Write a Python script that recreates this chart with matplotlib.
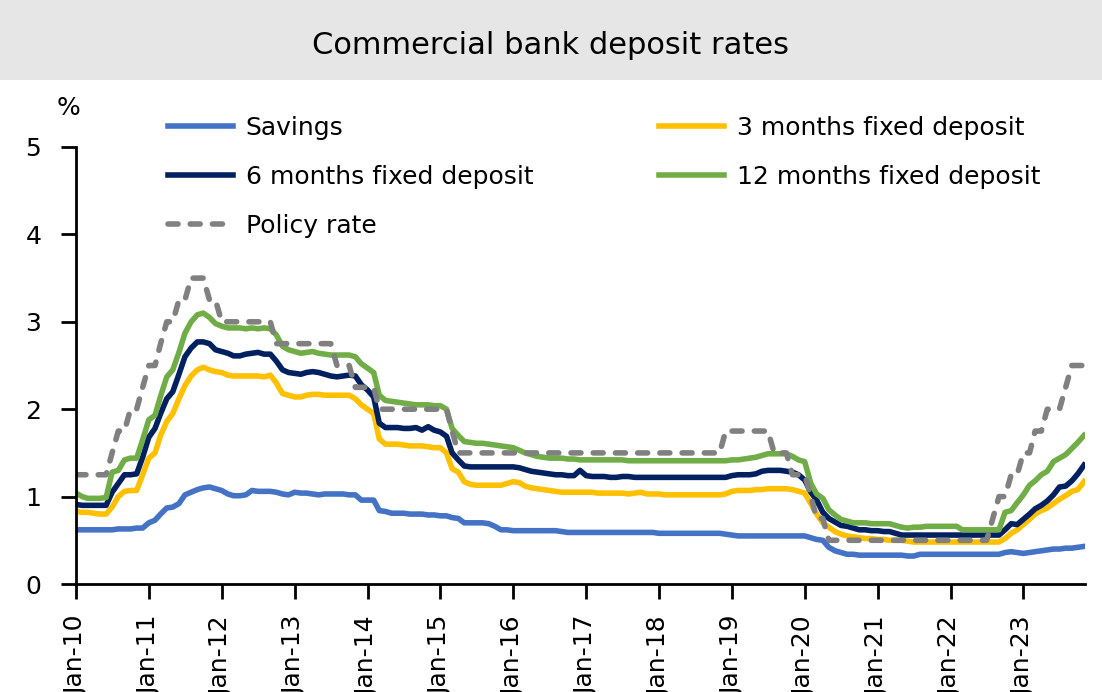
import matplotlib
matplotlib.use('Agg')
import matplotlib.pyplot as plt
import matplotlib.dates as mdates
import pandas as pd

# monthly data, Jan-10 .. Nov-23
months = pd.date_range('2010-01-01', '2023-11-01', freq='MS')

savings = [
    0.62, 0.62, 0.62, 0.62, 0.62, 0.62, 0.62, 0.63, 0.63, 0.63, 0.64, 0.64,  # 2010
    0.70, 0.73, 0.80, 0.87, 0.88, 0.92, 1.02, 1.05, 1.08, 1.10, 1.11, 1.09,  # 2011
    1.07, 1.03, 1.01, 1.01, 1.02, 1.07, 1.06, 1.06, 1.06, 1.05, 1.03, 1.02,  # 2012
    1.05, 1.04, 1.04, 1.03, 1.02, 1.03, 1.03, 1.03, 1.03, 1.02, 1.02, 0.96,  # 2013
    0.96, 0.96, 0.84, 0.83, 0.81, 0.81, 0.81, 0.80, 0.80, 0.80, 0.79, 0.79,  # 2014
    0.78, 0.78, 0.76, 0.75, 0.70, 0.70, 0.70, 0.70, 0.69, 0.66, 0.62, 0.62,  # 2015
    0.61, 0.61, 0.61, 0.61, 0.61, 0.61, 0.61, 0.61, 0.60, 0.59, 0.59, 0.59,  # 2016
    0.59, 0.59, 0.59, 0.59, 0.59, 0.59, 0.59, 0.59, 0.59, 0.59, 0.59, 0.59,  # 2017
    0.58, 0.58, 0.58, 0.58, 0.58, 0.58, 0.58, 0.58, 0.58, 0.58, 0.58, 0.57,  # 2018
    0.56, 0.55, 0.55, 0.55, 0.55, 0.55, 0.55, 0.55, 0.55, 0.55, 0.55, 0.55,  # 2019
    0.55, 0.53, 0.51, 0.50, 0.42, 0.38, 0.36, 0.34, 0.34, 0.33, 0.33, 0.33,  # 2020
    0.33, 0.33, 0.33, 0.33, 0.33, 0.32, 0.32, 0.34, 0.34, 0.34, 0.34, 0.34,  # 2021
    0.34, 0.34, 0.34, 0.34, 0.34, 0.34, 0.34, 0.34, 0.34, 0.36, 0.37, 0.36,  # 2022
    0.35, 0.36, 0.37, 0.38, 0.39, 0.40, 0.40, 0.41, 0.41, 0.42, 0.43,        # 2023
]

fixed_3m = [
    0.83, 0.82, 0.82, 0.81, 0.80, 0.80, 0.88, 1.00, 1.06, 1.07, 1.07, 1.25,
    1.44, 1.50, 1.70, 1.86, 1.95, 2.12, 2.27, 2.38, 2.45, 2.48, 2.45, 2.43,
    2.42, 2.39, 2.38, 2.38, 2.38, 2.38, 2.38, 2.37, 2.39, 2.30, 2.18, 2.16,
    2.14, 2.14, 2.16, 2.17, 2.17, 2.16, 2.16, 2.16, 2.16, 2.16, 2.12, 2.05,
    2.00, 1.95, 1.66, 1.60, 1.60, 1.60, 1.59, 1.58, 1.58, 1.58, 1.57, 1.56,
    1.56, 1.50, 1.32, 1.28, 1.17, 1.14, 1.13, 1.13, 1.13, 1.13, 1.13, 1.15,
    1.17, 1.16, 1.12, 1.10, 1.09, 1.08, 1.07, 1.06, 1.05, 1.05, 1.05, 1.05,
    1.05, 1.05, 1.04, 1.04, 1.04, 1.04, 1.04, 1.03, 1.04, 1.05, 1.03, 1.03,
    1.03, 1.02, 1.02, 1.02, 1.02, 1.02, 1.02, 1.02, 1.02, 1.02, 1.02, 1.03,
    1.06, 1.07, 1.07, 1.07, 1.08, 1.08, 1.09, 1.09, 1.09, 1.09, 1.08, 1.06,
    1.04, 0.92, 0.80, 0.70, 0.65, 0.60, 0.57, 0.55, 0.54, 0.53, 0.52, 0.52,
    0.51, 0.51, 0.50, 0.50, 0.50, 0.49, 0.48, 0.48, 0.48, 0.48, 0.48, 0.48,
    0.48, 0.48, 0.48, 0.48, 0.48, 0.48, 0.48, 0.48, 0.48, 0.52, 0.58, 0.62,
    0.68, 0.74, 0.80, 0.84, 0.87, 0.92, 0.97, 1.01, 1.06, 1.08, 1.17,
]

fixed_6m = [
    0.91, 0.90, 0.90, 0.90, 0.90, 0.90, 1.05, 1.15, 1.25, 1.25, 1.26, 1.45,
    1.68, 1.78, 1.95, 2.12, 2.20, 2.40, 2.60, 2.70, 2.77, 2.77, 2.75, 2.68,
    2.66, 2.64, 2.61, 2.61, 2.63, 2.64, 2.65, 2.63, 2.63, 2.55, 2.45, 2.42,
    2.41, 2.40, 2.42, 2.43, 2.42, 2.40, 2.38, 2.37, 2.38, 2.39, 2.38, 2.28,
    2.22, 2.14, 1.84, 1.79, 1.79, 1.79, 1.78, 1.78, 1.79, 1.76, 1.80, 1.76,
    1.74, 1.69, 1.50, 1.42, 1.35, 1.34, 1.34, 1.34, 1.34, 1.34, 1.34, 1.34,
    1.34, 1.33, 1.31, 1.29, 1.28, 1.27, 1.26, 1.25, 1.25, 1.24, 1.24, 1.30,
    1.24, 1.23, 1.23, 1.23, 1.22, 1.22, 1.23, 1.23, 1.22, 1.22, 1.22, 1.22,
    1.22, 1.22, 1.22, 1.22, 1.22, 1.22, 1.22, 1.22, 1.22, 1.22, 1.22, 1.22,
    1.24, 1.25, 1.25, 1.25, 1.26, 1.29, 1.30, 1.30, 1.30, 1.29, 1.28, 1.25,
    1.19, 1.05, 0.96, 0.82, 0.75, 0.71, 0.67, 0.66, 0.64, 0.62, 0.62, 0.61,
    0.61, 0.60, 0.60, 0.58, 0.56, 0.56, 0.56, 0.56, 0.56, 0.56, 0.56, 0.56,
    0.56, 0.56, 0.56, 0.56, 0.56, 0.56, 0.56, 0.56, 0.56, 0.62, 0.69, 0.68,
    0.74, 0.80, 0.86, 0.90, 0.95, 1.02, 1.11, 1.12, 1.18, 1.26, 1.36,
]

fixed_12m = [
    1.04, 1.00, 0.98, 0.98, 0.98, 0.99, 1.28, 1.30, 1.42, 1.44, 1.44, 1.65,
    1.88, 1.93, 2.15, 2.37, 2.45, 2.65, 2.87, 3.00, 3.08, 3.10, 3.05, 2.98,
    2.95, 2.93, 2.93, 2.93, 2.92, 2.93, 2.92, 2.93, 2.92, 2.85, 2.72, 2.68,
    2.66, 2.64, 2.65, 2.66, 2.64, 2.63, 2.62, 2.62, 2.62, 2.62, 2.60, 2.52,
    2.47, 2.42, 2.16, 2.10, 2.09, 2.08, 2.07, 2.06, 2.05, 2.05, 2.05, 2.04,
    2.04, 2.00, 1.78, 1.70, 1.63, 1.62, 1.61, 1.61, 1.60, 1.59, 1.58, 1.57,
    1.56, 1.53, 1.50, 1.48, 1.46, 1.45, 1.44, 1.44, 1.44, 1.43, 1.43, 1.42,
    1.42, 1.42, 1.42, 1.42, 1.42, 1.42, 1.42, 1.41, 1.41, 1.41, 1.41, 1.41,
    1.41, 1.41, 1.41, 1.41, 1.41, 1.41, 1.41, 1.41, 1.41, 1.41, 1.41, 1.41,
    1.42, 1.42, 1.43, 1.44, 1.45, 1.47, 1.49, 1.49, 1.49, 1.49, 1.46, 1.42,
    1.40, 1.15, 1.03, 0.98, 0.85, 0.79, 0.74, 0.72, 0.70, 0.70, 0.70, 0.69,
    0.69, 0.69, 0.69, 0.67, 0.65, 0.64, 0.65, 0.65, 0.66, 0.66, 0.66, 0.66,
    0.66, 0.66, 0.62, 0.62, 0.62, 0.62, 0.62, 0.62, 0.62, 0.82, 0.84, 0.93,
    1.02, 1.13, 1.18, 1.25, 1.29, 1.40, 1.44, 1.48, 1.55, 1.62, 1.70,
]

policy = [
    1.25, 1.25, 1.25, 1.25, 1.25, 1.25, 1.50, 1.75, 1.75, 2.00, 2.00, 2.25,
    2.50, 2.50, 2.75, 3.00, 3.00, 3.25, 3.25, 3.50, 3.50, 3.50, 3.25, 3.25,
    3.00, 3.00, 3.00, 3.00, 3.00, 3.00, 3.00, 3.00, 3.00, 2.75, 2.75, 2.75,
    2.75, 2.75, 2.75, 2.75, 2.75, 2.75, 2.75, 2.50, 2.50, 2.50, 2.25, 2.25,
    2.25, 2.25, 2.00, 2.00, 2.00, 2.00, 2.00, 2.00, 2.00, 2.00, 2.00, 2.00,
    2.00, 2.00, 1.75, 1.50, 1.50, 1.50, 1.50, 1.50, 1.50, 1.50, 1.50, 1.50,
    1.50, 1.50, 1.50, 1.50, 1.50, 1.50, 1.50, 1.50, 1.50, 1.50, 1.50, 1.50,
    1.50, 1.50, 1.50, 1.50, 1.50, 1.50, 1.50, 1.50, 1.50, 1.50, 1.50, 1.50,
    1.50, 1.50, 1.50, 1.50, 1.50, 1.50, 1.50, 1.50, 1.50, 1.50, 1.50, 1.75,
    1.75, 1.75, 1.75, 1.75, 1.75, 1.75, 1.75, 1.50, 1.50, 1.50, 1.25, 1.25,
    1.25, 1.00, 0.75, 0.75, 0.50, 0.50, 0.50, 0.50, 0.50, 0.50, 0.50, 0.50,
    0.50, 0.50, 0.50, 0.50, 0.50, 0.50, 0.50, 0.50, 0.50, 0.50, 0.50, 0.50,
    0.50, 0.50, 0.50, 0.50, 0.50, 0.50, 0.50, 0.75, 1.00, 1.00, 1.25, 1.25,
    1.50, 1.50, 1.75, 1.75, 2.00, 2.00, 2.00, 2.25, 2.50, 2.50, 2.50,
]

title = 'Commercial bank deposit rates'
labels = ['Savings', '3 months fixed deposit', '6 months fixed deposit',
          '12 months fixed deposit', 'Policy rate']
colors = ['#4472C4', '#FFC000', '#002060', '#70AD47', '#808080']

plt.rcParams['font.family'] = 'DejaVu Sans'

fig = plt.figure(figsize=(11.02, 6.92), dpi=100)

# grey title banner
fig.patches.append(plt.Rectangle((0, 1 - 80 / 692), 1, 80 / 692, transform=fig.transFigure,
                                 facecolor='#e7e6e6', edgecolor='none', zorder=0))
fig.text(0.5, 1 - 45 / 692, title, ha='center', va='center', fontsize=22)

ax = fig.add_axes([76 / 1102, 1 - 584 / 692, (1085 - 76) / 1102, (584 - 147) / 692])

lw = 4.0
series = [savings, fixed_3m, fixed_6m, fixed_12m]
handles = []
for vals, lab, col in zip(series, labels[:4], colors[:4]):
    h, = ax.plot(months, vals, color=col, lw=lw, label=lab, solid_joinstyle='round')
    handles.append(h)
h, = ax.plot(months, policy, color=colors[4], lw=lw, ls=(0, (1.8, 2.2)),
             dash_capstyle='round', label=labels[4])
handles.append(h)

ax.set_ylim(0, 5)
ax.set_yticks(range(6))
ax.set_xlim(months[0], pd.Timestamp('2023-11-06'))
ax.xaxis.set_major_locator(mdates.YearLocator())
ax.xaxis.set_major_formatter(mdates.DateFormatter('%b-%y'))
ax.tick_params(axis='x', labelrotation=90, length=11, width=2, pad=12, labelsize=18)
ax.tick_params(axis='y', length=11, width=2, pad=14, labelsize=18)
for s in ['top', 'right']:
    ax.spines[s].set_visible(False)
for s in ['left', 'bottom']:
    ax.spines[s].set_linewidth(2)

fig.text(68 / 1102, 1 - 108 / 692, '%', ha='center', va='center', fontsize=18)

# legend, row-major order: Savings | 3m, 6m | 12m, Policy
order = [0, 2, 4, 1, 3]
fig.legend([handles[i] for i in order], [labels[i] for i in order], ncol=2,
           loc='upper left', bbox_to_anchor=(168 / 1102, 1 - 116 / 692),
           frameon=False, fontsize=18, borderpad=0, borderaxespad=0,
           handlelength=2.6, handletextpad=0.5, labelspacing=0.99, columnspacing=5.05)

fig.savefig('out.png', dpi=100)
